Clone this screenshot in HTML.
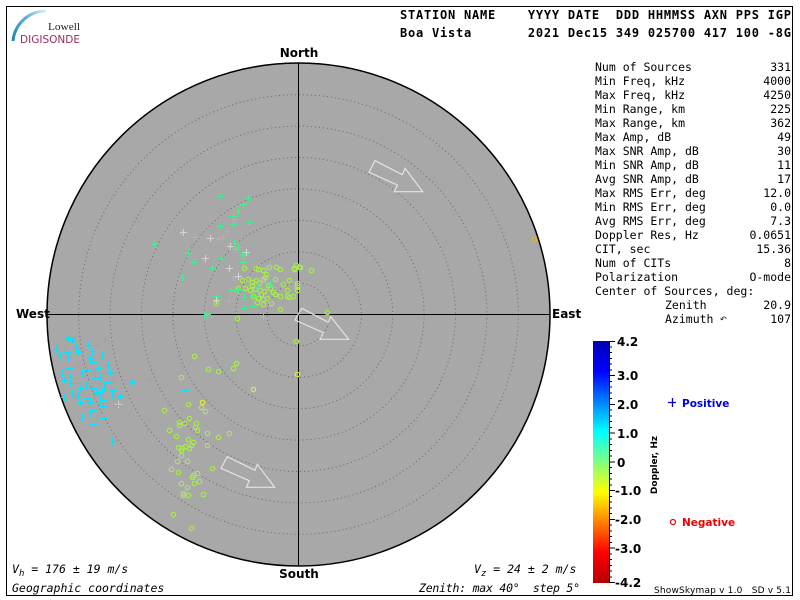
<!DOCTYPE html>
<html><head><meta charset="utf-8"><style>
html,body{margin:0;padding:0;background:#fff;}
svg{display:block;}
text{white-space:pre;}
.mono{font-family:"DejaVu Sans Mono","Liberation Mono",monospace;}
.sans{font-family:"DejaVu Sans","Liberation Sans",sans-serif;}
</style></head><body>
<svg width="800" height="600" viewBox="0 0 800 600" xmlns="http://www.w3.org/2000/svg">
<defs>
<linearGradient id="jet" x1="0" y1="0" x2="0" y2="1">
<stop offset="0" stop-color="#0000b4"/>
<stop offset="0.125" stop-color="#0000ff"/>
<stop offset="0.375" stop-color="#00ffff"/>
<stop offset="0.5" stop-color="#80ff80"/>
<stop offset="0.625" stop-color="#ffff00"/>
<stop offset="0.875" stop-color="#ff0000"/>
<stop offset="1" stop-color="#b40000"/>
</linearGradient>
<linearGradient id="arcg" x1="0" y1="1" x2="1" y2="0">
<stop offset="0" stop-color="#1f86b4"/>
<stop offset="0.6" stop-color="#5bb0d4"/>
<stop offset="1" stop-color="#e0eef5"/>
</linearGradient>
</defs>
<rect x="0" y="0" width="800" height="600" fill="#fff"/>
<rect x="6.5" y="6.5" width="786" height="589" fill="none" stroke="#000" stroke-width="1"/>

<!-- logo -->
<path d="M13,41 A33,33 0 0 1 46,11" fill="none" stroke="url(#arcg)" stroke-width="3"/>
<text x="48" y="30" font-family="Liberation Serif, serif" font-size="10.5" fill="#222" textLength="32" lengthAdjust="spacingAndGlyphs">Lowell</text>
<text x="20" y="43" class="sans" font-size="11" fill="#9b2a5c" textLength="60" lengthAdjust="spacingAndGlyphs">DIGISONDE</text>

<!-- header -->
<text x="400" y="19" class="mono" font-size="12" font-weight="bold" textLength="391" lengthAdjust="spacing">STATION NAME    YYYY DATE  DDD HHMMSS AXN PPS IGP</text>
<text x="400" y="37" class="mono" font-size="12" font-weight="bold" textLength="391" lengthAdjust="spacing">Boa Vista       2021 Dec15 349 025700 417 100 -8G</text>

<!-- sky circle -->
<circle cx="298.5" cy="314.5" r="251.5" fill="#a8a8a8" stroke="#000" stroke-width="1.5"/>
<g fill="none" stroke="#666" stroke-width="1" stroke-dasharray="1 3">
<circle cx="298.5" cy="314.5" r="31.4"/>
<circle cx="298.5" cy="314.5" r="62.8"/>
<circle cx="298.5" cy="314.5" r="94.2"/>
<circle cx="298.5" cy="314.5" r="125.6"/>
<circle cx="298.5" cy="314.5" r="157"/>
<circle cx="298.5" cy="314.5" r="188.4"/>
<circle cx="298.5" cy="314.5" r="219.8"/>
</g>
<path d="M298.5,63V566M47,314.5H550" stroke="#000" stroke-width="1"/>

<!-- arrows -->
<g fill="none" stroke="#e4e4e4" stroke-width="1.2" stroke-linejoin="miter">
<polygon points="375,160.7 369,172.3 397.3,185 394.3,191.7 422.7,191.7 405,168.3 402.3,174.7"/>
<polygon points="301.7,308.3 295,320 323.3,332.7 320,339.3 348.7,339.3 330.7,316.7 328.3,322.3"/>
<polygon points="227.3,456.7 221,468.3 249.3,480.7 246.3,487.3 274.7,487.3 257.3,464.3 255,470.3"/>
</g>

<!-- compass labels -->
<text x="299" y="57" class="sans" font-size="12" font-weight="bold" text-anchor="middle">North</text>
<text x="299" y="578" class="sans" font-size="12" font-weight="bold" text-anchor="middle">South</text>
<text x="16" y="318" class="sans" font-size="12" font-weight="bold">West</text>
<text x="552" y="318" class="sans" font-size="12" font-weight="bold">East</text>

<!-- yellow-green circles -->
<g stroke="#a6ee46" stroke-width="1.2" fill="none">
<circle cx="244.5" cy="268.5" r="2.2"/><circle cx="256.5" cy="268.5" r="2.2"/><circle cx="258.5" cy="269.5" r="2.2"/><circle cx="263.5" cy="270.5" r="2.2"/><circle cx="269.5" cy="267.5" r="2.2"/><circle cx="276.5" cy="267.5" r="2.2"/><circle cx="280.5" cy="269.5" r="2.2"/><circle cx="294.5" cy="269.5" r="2.2"/><circle cx="296.5" cy="265.5" r="2.2"/><circle cx="300.5" cy="267.5" r="2.2"/><circle cx="311.5" cy="270.5" r="2.2"/><circle cx="266.5" cy="274.5" r="2.2"/><circle cx="265.5" cy="277.5" r="2.2"/><circle cx="242.5" cy="280.5" r="2.2"/><circle cx="248.5" cy="279.5" r="2.2"/><circle cx="252.5" cy="282.5" r="2.2"/><circle cx="256.5" cy="280.5" r="2.2"/><circle cx="259.5" cy="283.5" r="2.2"/><circle cx="263.5" cy="279.5" r="2.2"/><circle cx="275.5" cy="279.5" r="2.2"/><circle cx="283.5" cy="284.5" r="2.2"/><circle cx="289.5" cy="280.5" r="2.2"/><circle cx="297.5" cy="285.5" r="2.2"/><circle cx="297.5" cy="290.5" r="2.2"/><circle cx="238.5" cy="288.5" r="2.2"/><circle cx="245.5" cy="288.5" r="2.2"/><circle cx="250.5" cy="290.5" r="2.2"/><circle cx="255.5" cy="289.5" r="2.2"/><circle cx="260.5" cy="290.5" r="2.2"/><circle cx="264.5" cy="291.5" r="2.2"/><circle cx="270.5" cy="288.5" r="2.2"/><circle cx="273.5" cy="292.5" r="2.2"/><circle cx="287.5" cy="290.5" r="2.2"/><circle cx="253.5" cy="296.5" r="2.2"/><circle cx="258.5" cy="298.5" r="2.2"/><circle cx="257.5" cy="302.5" r="2.2"/><circle cx="263.5" cy="299.5" r="2.2"/><circle cx="267.5" cy="298.5" r="2.2"/><circle cx="275.5" cy="294.5" r="2.2"/><circle cx="280.5" cy="296.5" r="2.2"/><circle cx="287.5" cy="296.5" r="2.2"/><circle cx="289.5" cy="297.5" r="2.2"/><circle cx="293.5" cy="296.5" r="2.2"/><circle cx="263.5" cy="304.5" r="2.2"/><circle cx="271.5" cy="303.5" r="2.2"/><circle cx="280.5" cy="309.5" r="2.2"/><circle cx="216.5" cy="303.5" r="2.2"/><circle cx="237.5" cy="318.5" r="2.2"/><circle cx="327.5" cy="312.5" r="2.2"/><circle cx="294.5" cy="268.5" r="2.2"/><circle cx="299.5" cy="267.5" r="2.2"/><circle cx="297.5" cy="283.5" r="2.2"/><circle cx="297.5" cy="287.5" r="2.2"/><circle cx="296.5" cy="341.5" r="2.2"/><circle cx="252.5" cy="285.5" r="2.2"/><circle cx="268.5" cy="285.5" r="2.2"/><circle cx="261.5" cy="294.5" r="2.2"/>
<circle cx="194.5" cy="356.5" r="2.2"/><circle cx="236.5" cy="363.5" r="2.2"/><circle cx="233.5" cy="368.5" r="2.2"/><circle cx="218.5" cy="371.5" r="2.2"/><circle cx="208.5" cy="369.5" r="2.2"/><circle cx="181.5" cy="377.5" r="2.2"/><circle cx="188.5" cy="404.5" r="2.2"/><circle cx="201.5" cy="407.5" r="2.2"/><circle cx="205.5" cy="411.5" r="2.2"/><circle cx="164.5" cy="410.5" r="2.2"/><circle cx="189.5" cy="418.5" r="2.2"/><circle cx="196.5" cy="423.5" r="2.2"/><circle cx="179.5" cy="422.5" r="2.2"/><circle cx="184.5" cy="423.5" r="2.2"/><circle cx="179.5" cy="425.5" r="2.2"/><circle cx="195.5" cy="427.5" r="2.2"/><circle cx="197.5" cy="430.5" r="2.2"/><circle cx="169.5" cy="430.5" r="2.2"/><circle cx="207.5" cy="433.5" r="2.2"/><circle cx="229.5" cy="433.5" r="2.2"/><circle cx="176.5" cy="436.5" r="2.2"/><circle cx="218.5" cy="437.5" r="2.2"/><circle cx="188.5" cy="439.5" r="2.2"/><circle cx="193.5" cy="442.5" r="2.2"/><circle cx="207.5" cy="445.5" r="2.2"/><circle cx="191.5" cy="445.5" r="2.2"/><circle cx="178.5" cy="447.5" r="2.2"/><circle cx="182.5" cy="448.5" r="2.2"/><circle cx="185.5" cy="446.5" r="2.2"/><circle cx="189.5" cy="448.5" r="2.2"/><circle cx="181.5" cy="450.5" r="2.2"/><circle cx="181.5" cy="455.5" r="2.2"/><circle cx="177.5" cy="461.5" r="2.2"/><circle cx="187.5" cy="461.5" r="2.2"/><circle cx="171.5" cy="469.5" r="2.2"/><circle cx="178.5" cy="472.5" r="2.2"/><circle cx="212.5" cy="468.5" r="2.2"/><circle cx="197.5" cy="473.5" r="2.2"/><circle cx="193.5" cy="475.5" r="2.2"/><circle cx="192.5" cy="477.5" r="2.2"/><circle cx="199.5" cy="481.5" r="2.2"/><circle cx="181.5" cy="483.5" r="2.2"/><circle cx="194.5" cy="483.5" r="2.2"/><circle cx="187.5" cy="487.5" r="2.2"/><circle cx="183.5" cy="493.5" r="2.2"/><circle cx="183.5" cy="495.5" r="2.2"/><circle cx="188.5" cy="495.5" r="2.2"/><circle cx="203.5" cy="494.5" r="2.2"/><circle cx="173.5" cy="514.5" r="2.2"/><circle cx="191.5" cy="528.5" r="2.2"/>
</g>
<g stroke="#e2f020" stroke-width="1.2" fill="none">
<circle cx="202.5" cy="402.5" r="2.2"/><circle cx="253.5" cy="389.5" r="2.2"/><circle cx="297.5" cy="374.5" r="2.2"/>
</g>
<circle cx="534.5" cy="239.5" r="2.2" fill="none" stroke="#f0b020" stroke-width="1.2"/>

<!-- green plus (filled rects) -->
<path fill="#44f08c" shape-rendering="crispEdges" d="M217,196h7v1h-7zM220,193h1v7h-1zM245,198h7v1h-7zM248,195h1v7h-1zM240,204h7v1h-7zM243,201h1v7h-1zM235,211h7v1h-7zM238,208h1v7h-1zM230,216h7v1h-7zM233,213h1v7h-1zM232,219h7v1h-7zM235,216h1v7h-1zM246,222h7v1h-7zM249,219h1v7h-1zM230,224h7v1h-7zM233,221h1v7h-1zM217,226h7v1h-7zM220,223h1v7h-1zM178,233h7v1h-7zM181,230h1v7h-1zM224,231h7v1h-7zM227,228h1v7h-1zM151,244h7v1h-7zM154,241h1v7h-1zM192,237h7v1h-7zM195,234h1v7h-1zM216,239h7v1h-7zM219,236h1v7h-1zM220,237h7v1h-7zM223,234h1v7h-1zM231,243h7v1h-7zM234,240h1v7h-1zM235,247h7v1h-7zM238,244h1v7h-1zM232,249h7v1h-7zM235,246h1v7h-1zM185,253h7v1h-7zM188,250h1v7h-1zM239,255h7v1h-7zM242,252h1v7h-1zM242,254h7v1h-7zM245,251h1v7h-1zM218,258h7v1h-7zM221,255h1v7h-1zM191,262h7v1h-7zM194,259h1v7h-1zM240,262h7v1h-7zM243,259h1v7h-1zM209,268h7v1h-7zM212,265h1v7h-1zM179,277h7v1h-7zM182,274h1v7h-1zM230,277h7v1h-7zM233,274h1v7h-1zM228,290h7v1h-7zM231,287h1v7h-1zM235,290h7v1h-7zM238,287h1v7h-1zM214,296h7v1h-7zM217,293h1v7h-1zM241,297h7v1h-7zM244,294h1v7h-1zM250,296h7v1h-7zM253,293h1v7h-1zM226,301h7v1h-7zM229,298h1v7h-1zM241,308h7v1h-7zM244,305h1v7h-1zM250,306h7v1h-7zM253,303h1v7h-1zM260,317h7v1h-7zM263,314h1v7h-1zM201,315h7v1h-7zM204,312h1v7h-1zM204,314h7v1h-7zM207,311h1v7h-1zM270,287h7v1h-7zM273,284h1v7h-1zM267,284h7v1h-7zM270,281h1v7h-1zM234,289h7v1h-7zM237,286h1v7h-1zM255,287h7v1h-7zM258,284h1v7h-1zM246,283h7v1h-7zM249,280h1v7h-1z"/>
<!-- pale plus -->
<path fill="#d4d4d4" shape-rendering="crispEdges" d="M180,232h7v1h-7zM183,229h1v7h-1zM227,246h7v1h-7zM230,243h1v7h-1zM202,258h7v1h-7zM205,255h1v7h-1zM213,300h7v1h-7zM216,297h1v7h-1zM243,252h7v1h-7zM246,249h1v7h-1zM115,404h7v1h-7zM118,401h1v7h-1zM207,238h7v1h-7zM210,235h1v7h-1zM235,276h7v1h-7zM238,273h1v7h-1zM226,268h7v1h-7zM229,265h1v7h-1z"/>
<!-- cyan plus -->
<path fill="#00e4ff" shape-rendering="crispEdges" d="M65,338h7v1h-7zM68,335h1v7h-1zM72,337h7v1h-7zM75,334h1v7h-1zM102,339h7v1h-7zM105,336h1v7h-1zM53,349h7v1h-7zM56,346h1v7h-1zM62,347h7v1h-7zM65,344h1v7h-1zM73,347h7v1h-7zM76,344h1v7h-1zM80,349h7v1h-7zM83,346h1v7h-1zM85,345h7v1h-7zM88,342h1v7h-1zM94,345h7v1h-7zM97,342h1v7h-1zM64,352h7v1h-7zM67,349h1v7h-1zM75,352h7v1h-7zM78,349h1v7h-1zM99,355h7v1h-7zM102,352h1v7h-1zM65,357h7v1h-7zM68,354h1v7h-1zM87,358h7v1h-7zM90,355h1v7h-1zM90,362h7v1h-7zM93,359h1v7h-1zM74,365h7v1h-7zM77,362h1v7h-1zM105,365h7v1h-7zM108,362h1v7h-1zM95,368h7v1h-7zM98,365h1v7h-1zM84,370h7v1h-7zM87,367h1v7h-1zM59,373h7v1h-7zM62,370h1v7h-1zM79,373h7v1h-7zM82,370h1v7h-1zM90,373h7v1h-7zM93,370h1v7h-1zM102,373h7v1h-7zM105,370h1v7h-1zM56,377h7v1h-7zM59,374h1v7h-1zM67,377h7v1h-7zM70,374h1v7h-1zM82,377h7v1h-7zM85,374h1v7h-1zM97,377h7v1h-7zM100,374h1v7h-1zM110,379h7v1h-7zM113,376h1v7h-1zM61,380h7v1h-7zM64,377h1v7h-1zM74,383h7v1h-7zM77,380h1v7h-1zM86,383h7v1h-7zM89,380h1v7h-1zM96,383h7v1h-7zM99,380h1v7h-1zM104,382h7v1h-7zM107,379h1v7h-1zM129,382h7v1h-7zM132,379h1v7h-1zM146,379h7v1h-7zM149,376h1v7h-1zM60,387h7v1h-7zM63,384h1v7h-1zM77,388h7v1h-7zM80,385h1v7h-1zM90,388h7v1h-7zM93,385h1v7h-1zM99,390h7v1h-7zM102,387h1v7h-1zM110,390h7v1h-7zM113,387h1v7h-1zM69,393h7v1h-7zM72,390h1v7h-1zM80,393h7v1h-7zM83,390h1v7h-1zM97,395h7v1h-7zM100,392h1v7h-1zM109,395h7v1h-7zM112,392h1v7h-1zM117,396h7v1h-7zM120,393h1v7h-1zM61,397h7v1h-7zM64,394h1v7h-1zM72,397h7v1h-7zM75,394h1v7h-1zM84,398h7v1h-7zM87,395h1v7h-1zM92,397h7v1h-7zM95,394h1v7h-1zM100,400h7v1h-7zM103,397h1v7h-1zM77,402h7v1h-7zM80,399h1v7h-1zM87,402h7v1h-7zM90,399h1v7h-1zM97,403h7v1h-7zM100,400h1v7h-1zM104,403h7v1h-7zM107,400h1v7h-1zM114,405h7v1h-7zM117,402h1v7h-1zM82,407h7v1h-7zM85,404h1v7h-1zM100,406h7v1h-7zM103,403h1v7h-1zM90,410h7v1h-7zM93,407h1v7h-1zM87,413h7v1h-7zM90,410h1v7h-1zM79,417h7v1h-7zM82,414h1v7h-1zM94,417h7v1h-7zM97,414h1v7h-1zM100,418h7v1h-7zM103,415h1v7h-1zM90,424h7v1h-7zM93,421h1v7h-1zM80,431h7v1h-7zM83,428h1v7h-1zM109,441h7v1h-7zM112,438h1v7h-1zM182,390h7v1h-7zM185,387h1v7h-1zM67,383h7v1h-7zM70,380h1v7h-1zM92,378h7v1h-7zM95,375h1v7h-1zM83,385h7v1h-7zM86,382h1v7h-1zM75,395h7v1h-7zM78,392h1v7h-1zM93,392h7v1h-7zM96,389h1v7h-1zM101,385h7v1h-7zM104,382h1v7h-1zM107,372h7v1h-7zM110,369h1v7h-1zM66,368h7v1h-7zM69,365h1v7h-1zM89,351h7v1h-7zM92,348h1v7h-1zM57,355h7v1h-7zM60,352h1v7h-1zM69,340h7v1h-7zM72,337h1v7h-1z"/>

<!-- stats -->
<g class="mono" font-size="11.5" fill="#000">
<text x="595" y="71">Num of Sources</text><text x="791" y="71" text-anchor="end">331</text>
<text x="595" y="85">Min Freq, kHz</text><text x="791" y="85" text-anchor="end">4000</text>
<text x="595" y="99">Max Freq, kHz</text><text x="791" y="99" text-anchor="end">4250</text>
<text x="595" y="113">Min Range, km</text><text x="791" y="113" text-anchor="end">225</text>
<text x="595" y="127">Max Range, km</text><text x="791" y="127" text-anchor="end">362</text>
<text x="595" y="141">Max Amp, dB</text><text x="791" y="141" text-anchor="end">49</text>
<text x="595" y="155">Max SNR Amp, dB</text><text x="791" y="155" text-anchor="end">30</text>
<text x="595" y="169">Min SNR Amp, dB</text><text x="791" y="169" text-anchor="end">11</text>
<text x="595" y="183">Avg SNR Amp, dB</text><text x="791" y="183" text-anchor="end">17</text>
<text x="595" y="197">Max RMS Err, deg</text><text x="791" y="197" text-anchor="end">12.0</text>
<text x="595" y="211">Min RMS Err, deg</text><text x="791" y="211" text-anchor="end">0.0</text>
<text x="595" y="225">Avg RMS Err, deg</text><text x="791" y="225" text-anchor="end">7.3</text>
<text x="595" y="239">Doppler Res, Hz</text><text x="791" y="239" text-anchor="end">0.0651</text>
<text x="595" y="253">CIT, sec</text><text x="791" y="253" text-anchor="end">15.36</text>
<text x="595" y="267">Num of CITs</text><text x="791" y="267" text-anchor="end">8</text>
<text x="595" y="281">Polarization</text><text x="791" y="281" text-anchor="end">O-mode</text>
<text x="595" y="295">Center of Sources, deg:</text>
<text x="665" y="309">Zenith</text><text x="791" y="309" text-anchor="end">20.9</text>
<text x="665" y="323">Azimuth</text><text x="791" y="323" text-anchor="end">107</text>
</g>
<text x="720" y="322" class="sans" font-size="8" fill="#000">↶</text>

<!-- colorbar -->
<rect x="593" y="341" width="16" height="242" fill="url(#jet)"/>
<path stroke="#000" stroke-width="1" fill="none" d="M609,341.5H615M609,347H612M609,352.5H612M609,358.5H612M609,364H612M609,370H612M609,375.5H615M609,381.5H612M609,387H612M609,393H612M609,398.5H612M609,404.5H615M609,410H612M609,416H612M609,421.5H612M609,427.5H612M609,433H615M609,439H612M609,444.5H612M609,450.5H612M609,456H612M609,462H615M609,467.5H612M609,473.5H612M609,479H612M609,485H612M609,490.5H615M609,496.5H612M609,502H612M609,508H612M609,513.5H612M609,519.5H615M609,525H612M609,531H612M609,536.5H612M609,542.5H612M609,548H615M609,554H612M609,559.5H612M609,565.5H612M609,571H612M609,577H612M609,582.5H615M609.5,341V583"/>
<g class="sans" font-size="12" font-weight="bold" fill="#000">
<text x="617" y="346">4.2</text>
<text x="617" y="380">3.0</text>
<text x="617" y="409">2.0</text>
<text x="617" y="438">1.0</text>
<text x="617" y="467">0</text>
<text x="615" y="495">-1.0</text>
<text x="615" y="524">-2.0</text>
<text x="615" y="553">-3.0</text>
<text x="615" y="587">-4.2</text>
</g>
<text transform="translate(657,465) rotate(-90)" class="sans" font-size="9" font-weight="bold" text-anchor="middle">Doppler, Hz</text>

<path d="M668,402.5h8M672.5,398v9" stroke="#0000e0" stroke-width="1.3" fill="none"/>
<text x="682" y="407" class="sans" font-size="10.5" font-weight="bold" fill="#0000e0">Positive</text>
<circle cx="673" cy="522" r="2.5" fill="none" stroke="#f00000" stroke-width="1.2"/>
<text x="682" y="526" class="sans" font-size="10.5" font-weight="bold" fill="#f00000">Negative</text>

<!-- footer -->
<text x="12" y="573" class="mono" font-size="11.5" font-style="italic">V<tspan font-size="9" dy="3">h</tspan><tspan dy="-3"> = 176 ± 19 m/s</tspan></text>
<text x="12" y="592" class="mono" font-size="11.5" font-style="italic">Geographic coordinates</text>
<text x="474" y="573" class="mono" font-size="11.5" font-style="italic">V<tspan font-size="9" dy="3">z</tspan><tspan dy="-3"> = 24 ± 2 m/s</tspan></text>
<text x="419" y="592" class="mono" font-size="11.5" font-style="italic" textLength="161" lengthAdjust="spacing">Zenith: max 40°  step 5°</text>
<text x="654" y="593" class="sans" font-size="9" fill="#000" textLength="137" lengthAdjust="spacing">ShowSkymap v 1.0   SD v 5.1</text>
</svg>
</body></html>
